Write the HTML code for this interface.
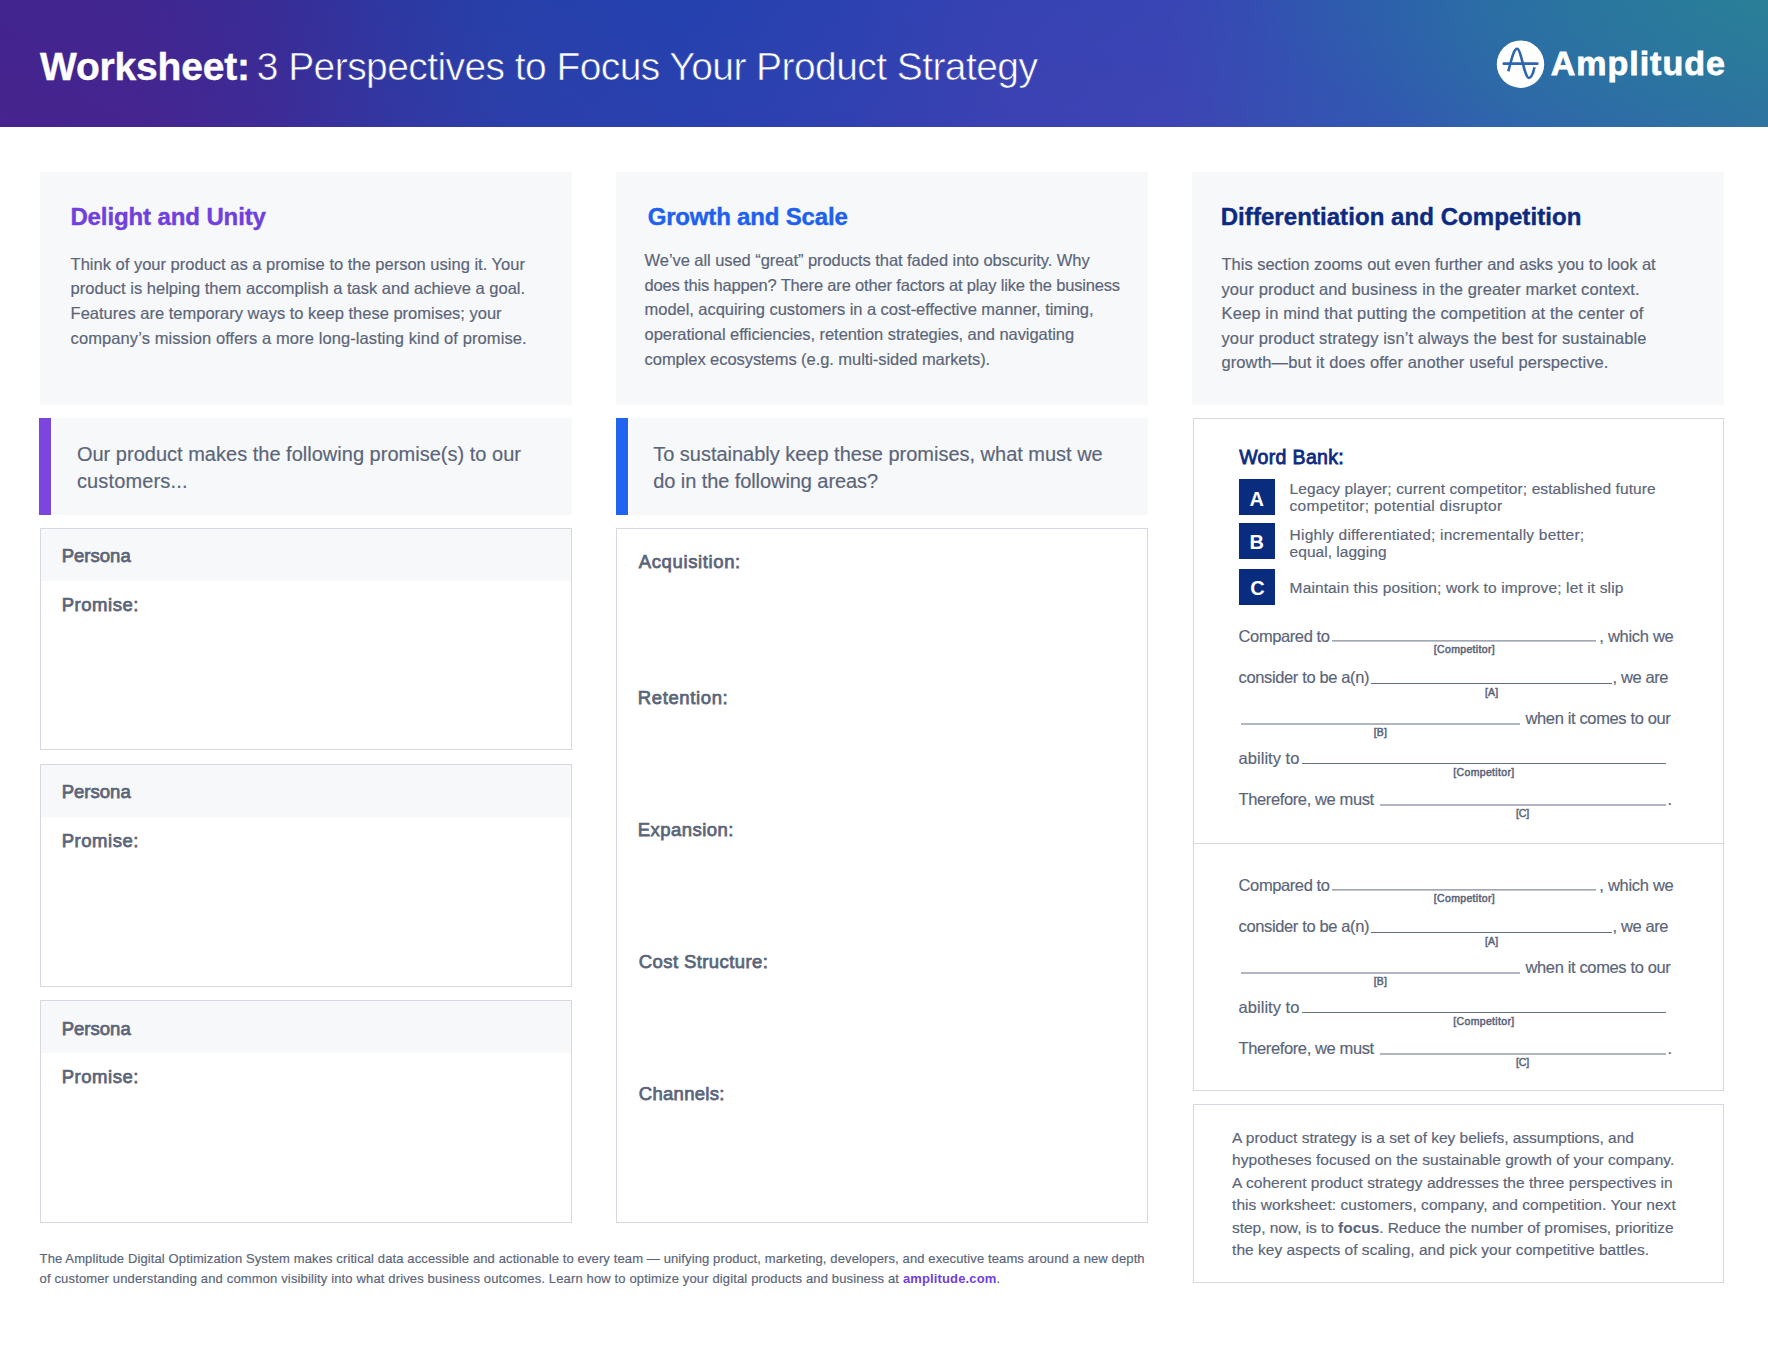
<!DOCTYPE html>
<html lang="en">
<head>
<meta charset="utf-8">
<title>Worksheet: 3 Perspectives to Focus Your Product Strategy</title>
<style>
*{box-sizing:border-box;margin:0;padding:0}
html,body{width:1768px;height:1364px;background:#fff;overflow:hidden}
body{position:relative;font-family:"Liberation Sans",sans-serif;color:#5b6579}
.a,.t{position:absolute}
.t{white-space:nowrap}
.r{-webkit-text-stroke:0.18px #5b6579}
.hdr{left:0;top:0;width:1768px;height:127px;background:
 radial-gradient(ellipse 520px 170px at 100% 0%,rgba(42,140,140,0.55) 0%,rgba(42,140,140,0.25) 55%,rgba(42,140,140,0) 100%),
 linear-gradient(180deg,rgba(30,60,180,0.10) 0%,rgba(80,50,180,0.10) 100%),
 linear-gradient(90deg,#46228a 0%,#45238b 7.4%,#3c2a93 15.3%,#2f38a0 22.6%,#2840a8 28.3%,#2542ae 38.5%,#2e42b0 48%,#3a43b2 56.6%,#3c46b4 66.2%,#3355b2 73.5%,#2e5eb0 79.2%,#2c68ac 84.8%,#2a70a8 93.3%,#2a76a2 100%)}
.card{background:#f7f8fa}
.box{border:1px solid #d5d8e0;background:#fff}
.sq{width:36px;height:36px;background:#0a2c7e}
.ln{height:1px;background:#7a8294}
h1,h2,h3{font-size:inherit;font-weight:400}
b{font-weight:700}
.r b{-webkit-text-stroke:0}
</style>
</head>
<body>
<header>
<div class="a hdr"></div>
<svg class="a" style="left:1496px;top:40px" width="49" height="49" viewBox="0 0 49 49">
<circle cx="24.5" cy="24.2" r="23.7" fill="#fff"/>
<path d="M7.8 23.7H41.3" stroke="#2b66ae" stroke-width="2.7" stroke-linecap="round" fill="none"/>
<path d="M12.3 31.3C15 22 17.5 8.8 21.1 8.8C25.2 8.8 28.3 38 33 38C35.8 38 37.5 32 38.5 27.3" stroke="#2b66ae" stroke-width="2.6" stroke-linecap="butt" fill="none"/>
</svg>
<div class="t" style="left:40.00px;top:45px;font-size:39px;line-height:43px;font-weight:700;color:#fff;letter-spacing:-0.176px;-webkit-text-stroke:0.4px #fff;">Worksheet:</div>
<div class="t" style="left:256.80px;top:45px;font-size:39px;line-height:43px;color:#fff;letter-spacing:-0.578px;-webkit-text-stroke-width:0.6px;"><span style="-webkit-text-stroke-color:#3b2b96">3</span> <span style="-webkit-text-stroke-color:#3038a2">Perspectives</span> <span style="-webkit-text-stroke-color:#283faa">to</span> <span style="-webkit-text-stroke-color:#2740ac">Focus</span> <span style="-webkit-text-stroke-color:#2941b0">Your</span> <span style="-webkit-text-stroke-color:#2d41af">Product</span> <span style="-webkit-text-stroke-color:#3740b1">Strategy</span></div>
<div class="t" style="left:1550.80px;top:44px;font-size:34px;line-height:38px;font-weight:700;color:#fff;letter-spacing:0.974px;-webkit-text-stroke:0.8px #fff;">Amplitude</div>
</header>
<main>
<div class="a card" style="left:40px;top:172px;width:532px;height:233px"></div>
<div class="a card" style="left:616px;top:172px;width:532px;height:233px"></div>
<div class="a card" style="left:1192px;top:172px;width:532px;height:233px"></div>
<div class="a card" style="left:52px;top:418px;width:520px;height:97px"></div>
<div class="a" style="left:39px;top:418px;width:12px;height:97px;background:#7b45de"></div>
<div class="a card" style="left:629px;top:418px;width:519px;height:97px"></div>
<div class="a" style="left:616px;top:418px;width:12px;height:97px;background:#2064f0"></div>
<div class="a box" style="left:40px;top:528px;width:532px;height:222px"></div>
<div class="a card" style="left:41px;top:529px;width:530px;height:52px"></div>
<div class="a box" style="left:40px;top:764px;width:532px;height:223px"></div>
<div class="a card" style="left:41px;top:765px;width:530px;height:52px"></div>
<div class="a box" style="left:40px;top:1000px;width:532px;height:223px"></div>
<div class="a card" style="left:41px;top:1001px;width:530px;height:52px"></div>
<div class="a box" style="left:616px;top:528px;width:532px;height:695px"></div>
<div class="a box" style="left:1193px;top:418px;width:531px;height:673px"></div>
<div class="a" style="left:1193px;top:843px;width:531px;height:1px;background:#d5d8e0"></div>
<div class="a sq" style="left:1239px;top:479px"></div>
<div class="a sq" style="left:1239px;top:523px"></div>
<div class="a sq" style="left:1239px;top:569px"></div>
<div class="a" style="left:1332.1px;top:640px;width:264.3px;height:1px;background:rgba(98,108,128,0.60)"></div>
<div class="a" style="left:1332.1px;top:641px;width:264.3px;height:1px;background:rgba(98,108,128,0.40)"></div>
<div class="a" style="left:1371.4px;top:683px;width:240.3px;height:1px;background:rgba(98,108,128,1.00)"></div>
<div class="a" style="left:1240.9px;top:723px;width:279.3px;height:1px;background:rgba(98,108,128,0.50)"></div>
<div class="a" style="left:1240.9px;top:724px;width:279.3px;height:1px;background:rgba(98,108,128,0.50)"></div>
<div class="a" style="left:1302.1px;top:763px;width:364.1px;height:1px;background:rgba(98,108,128,0.95)"></div>
<div class="a" style="left:1380.1px;top:804px;width:285.5px;height:1px;background:rgba(98,108,128,0.50)"></div>
<div class="a" style="left:1380.1px;top:805px;width:285.5px;height:1px;background:rgba(98,108,128,0.50)"></div>
<div class="a" style="left:1332.1px;top:889px;width:264.3px;height:1px;background:rgba(98,108,128,0.60)"></div>
<div class="a" style="left:1332.1px;top:890px;width:264.3px;height:1px;background:rgba(98,108,128,0.40)"></div>
<div class="a" style="left:1371.4px;top:932px;width:240.3px;height:1px;background:rgba(98,108,128,1.00)"></div>
<div class="a" style="left:1240.9px;top:972px;width:279.3px;height:1px;background:rgba(98,108,128,0.50)"></div>
<div class="a" style="left:1240.9px;top:973px;width:279.3px;height:1px;background:rgba(98,108,128,0.50)"></div>
<div class="a" style="left:1302.1px;top:1012px;width:364.1px;height:1px;background:rgba(98,108,128,0.95)"></div>
<div class="a" style="left:1380.1px;top:1053px;width:285.5px;height:1px;background:rgba(98,108,128,0.50)"></div>
<div class="a" style="left:1380.1px;top:1054px;width:285.5px;height:1px;background:rgba(98,108,128,0.50)"></div>
<div class="a box" style="left:1193px;top:1104px;width:531px;height:179px"></div>
<h2 class="t" style="left:70.40px;top:203px;font-size:24px;line-height:27px;font-weight:700;color:#7040de;letter-spacing:-0.112px;-webkit-text-stroke:0.4px #7040de;">Delight and Unity</h2>
<h2 class="t" style="left:647.70px;top:203px;font-size:24px;line-height:27px;font-weight:700;color:#2060ee;letter-spacing:-0.178px;-webkit-text-stroke:0.4px #2060ee;">Growth and Scale</h2>
<h2 class="t" style="left:1220.70px;top:203px;font-size:24px;line-height:27px;font-weight:700;color:#0c2a80;letter-spacing:0.067px;-webkit-text-stroke:0.4px #0c2a80;">Differentiation and Competition</h2>
<div class="t r" style="left:70.60px;top:255px;font-size:16.5px;line-height:18px;letter-spacing:0.005px;">Think of your product as a promise to the person using it. Your</div>
<div class="t r" style="left:70.60px;top:279px;font-size:16.5px;line-height:18px;letter-spacing:0.008px;">product is helping them accomplish a task and achieve a goal.</div>
<div class="t r" style="left:70.60px;top:304px;font-size:16.5px;line-height:18px;">Features are temporary ways to keep these promises; your</div>
<div class="t r" style="left:70.60px;top:329px;font-size:16.5px;line-height:18px;letter-spacing:0.090px;">company’s mission offers a more long-lasting kind of promise.</div>
<div class="t r" style="left:644.60px;top:251px;font-size:16.5px;line-height:18px;letter-spacing:-0.061px;">We’ve all used “great” products that faded into obscurity. Why</div>
<div class="t r" style="left:644.60px;top:276px;font-size:16.5px;line-height:18px;letter-spacing:-0.171px;">does this happen? There are other factors at play like the business</div>
<div class="t r" style="left:644.60px;top:300px;font-size:16.5px;line-height:18px;letter-spacing:-0.048px;">model, acquiring customers in a cost-effective manner, timing,</div>
<div class="t r" style="left:644.60px;top:325px;font-size:16.5px;line-height:18px;letter-spacing:-0.067px;">operational efficiencies, retention strategies, and navigating</div>
<div class="t r" style="left:644.60px;top:350px;font-size:16.5px;line-height:18px;letter-spacing:-0.063px;">complex ecosystems (e.g. multi-sided markets).</div>
<div class="t r" style="left:1221.50px;top:255px;font-size:16.5px;line-height:18px;letter-spacing:-0.009px;">This section zooms out even further and asks you to look at</div>
<div class="t r" style="left:1221.50px;top:280px;font-size:16.5px;line-height:18px;letter-spacing:0.097px;">your product and business in the greater market context.</div>
<div class="t r" style="left:1221.50px;top:304px;font-size:16.5px;line-height:18px;letter-spacing:0.144px;">Keep in mind that putting the competition at the center of</div>
<div class="t r" style="left:1221.50px;top:329px;font-size:16.5px;line-height:18px;letter-spacing:0.101px;">your product strategy isn’t always the best for sustainable</div>
<div class="t r" style="left:1221.50px;top:353px;font-size:16.5px;line-height:18px;letter-spacing:0.092px;">growth—but it does offer another useful perspective.</div>
<div class="t r" style="left:76.90px;top:443px;font-size:20px;line-height:22px;letter-spacing:0.011px;">Our product makes the following promise(s) to our</div>
<div class="t r" style="left:76.90px;top:470px;font-size:20px;line-height:22px;letter-spacing:0.149px;">customers...</div>
<div class="t r" style="left:653.20px;top:443px;font-size:20px;line-height:22px;letter-spacing:-0.015px;">To sustainably keep these promises, what must we</div>
<div class="t r" style="left:653.20px;top:470px;font-size:20px;line-height:22px;letter-spacing:-0.076px;">do in the following areas?</div>
<div class="t r" style="left:61.68px;top:545px;font-size:18.5px;line-height:21px;letter-spacing:0.022px;-webkit-text-stroke:0.75px #5b6579;">Persona</div>
<div class="t r" style="left:61.68px;top:594px;font-size:18.5px;line-height:21px;letter-spacing:0.541px;-webkit-text-stroke:0.75px #5b6579;">Promise:</div>
<div class="t r" style="left:61.68px;top:781px;font-size:18.5px;line-height:21px;letter-spacing:0.022px;-webkit-text-stroke:0.75px #5b6579;">Persona</div>
<div class="t r" style="left:61.68px;top:830px;font-size:18.5px;line-height:21px;letter-spacing:0.541px;-webkit-text-stroke:0.75px #5b6579;">Promise:</div>
<div class="t r" style="left:61.68px;top:1018px;font-size:18.5px;line-height:21px;letter-spacing:0.022px;-webkit-text-stroke:0.75px #5b6579;">Persona</div>
<div class="t r" style="left:61.68px;top:1066px;font-size:18.5px;line-height:21px;letter-spacing:0.541px;-webkit-text-stroke:0.75px #5b6579;">Promise:</div>
<div class="t r" style="left:638.77px;top:551px;font-size:18.5px;line-height:21px;letter-spacing:0.626px;-webkit-text-stroke:0.75px #5b6579;">Acquisition:</div>
<div class="t r" style="left:637.77px;top:687px;font-size:18.5px;line-height:21px;letter-spacing:0.627px;-webkit-text-stroke:0.75px #5b6579;">Retention:</div>
<div class="t r" style="left:637.77px;top:819px;font-size:18.5px;line-height:21px;letter-spacing:0.460px;-webkit-text-stroke:0.75px #5b6579;">Expansion:</div>
<div class="t r" style="left:638.77px;top:951px;font-size:18.5px;line-height:21px;letter-spacing:0.407px;-webkit-text-stroke:0.75px #5b6579;">Cost Structure:</div>
<div class="t r" style="left:638.77px;top:1083px;font-size:18.5px;line-height:21px;letter-spacing:0.285px;-webkit-text-stroke:0.75px #5b6579;">Channels:</div>
<h3 class="t" style="left:1239.20px;top:446px;font-size:19.5px;line-height:22px;color:#0c2a80;letter-spacing:0.343px;-webkit-text-stroke:0.8px #0c2a80;">Word Bank:</h3>
<div class="t" style="left:1249.40px;top:488px;font-size:20px;line-height:22px;font-weight:700;color:#fff;">A</div>
<div class="t" style="left:1249.60px;top:531px;font-size:20px;line-height:22px;font-weight:700;color:#fff;">B</div>
<div class="t" style="left:1250.30px;top:577px;font-size:20px;line-height:22px;font-weight:700;color:#fff;">C</div>
<div class="t r" style="left:1289.60px;top:480px;font-size:15.5px;line-height:17px;letter-spacing:0.097px;">Legacy player; current competitor; established future</div>
<div class="t r" style="left:1289.60px;top:497px;font-size:15.5px;line-height:17px;letter-spacing:0.279px;">competitor; potential disruptor</div>
<div class="t r" style="left:1289.60px;top:526px;font-size:15.5px;line-height:17px;letter-spacing:0.224px;">Highly differentiated; incrementally better;</div>
<div class="t r" style="left:1289.60px;top:543px;font-size:15.5px;line-height:17px;letter-spacing:0.030px;">equal, lagging</div>
<div class="t r" style="left:1289.60px;top:579px;font-size:15.5px;line-height:17px;letter-spacing:0.125px;">Maintain this position; work to improve; let it slip</div>
<div class="t r" style="left:1238.60px;top:627px;font-size:16.5px;line-height:18px;letter-spacing:-0.401px;">Compared to</div>
<div class="t r" style="left:1599.30px;top:627px;font-size:16.5px;line-height:18px;letter-spacing:-0.284px;">, which we</div>
<div class="t r" style="left:1433.75px;top:643px;font-size:10.5px;line-height:12px;letter-spacing:0.348px;-webkit-text-stroke:0.5px #5b6579;">[Competitor]</div>
<div class="t r" style="left:1238.60px;top:668px;font-size:16.5px;line-height:18px;letter-spacing:-0.371px;">consider to be a(n)</div>
<div class="t r" style="left:1612.60px;top:668px;font-size:16.5px;line-height:18px;letter-spacing:-0.404px;">, we are</div>
<div class="t r" style="left:1485.05px;top:686px;font-size:10.5px;line-height:12px;letter-spacing:0.137px;-webkit-text-stroke:0.5px #5b6579;">[A]</div>
<div class="t r" style="left:1525.50px;top:709px;font-size:16.5px;line-height:18px;letter-spacing:-0.366px;">when it comes to our</div>
<div class="t r" style="left:1373.75px;top:726px;font-size:10.5px;line-height:12px;letter-spacing:0.137px;-webkit-text-stroke:0.5px #5b6579;">[B]</div>
<div class="t r" style="left:1238.60px;top:749px;font-size:16.5px;line-height:18px;letter-spacing:0.027px;">ability to</div>
<div class="t r" style="left:1453.25px;top:766px;font-size:10.5px;line-height:12px;letter-spacing:0.348px;-webkit-text-stroke:0.5px #5b6579;">[Competitor]</div>
<div class="t r" style="left:1238.60px;top:790px;font-size:16.5px;line-height:18px;letter-spacing:-0.386px;">Therefore, we must</div>
<div class="t r" style="left:1667.50px;top:790px;font-size:16.5px;line-height:18px;">.</div>
<div class="t r" style="left:1516.05px;top:807px;font-size:10.5px;line-height:12px;letter-spacing:-0.102px;-webkit-text-stroke:0.5px #5b6579;">[C]</div>
<div class="t r" style="left:1238.60px;top:876px;font-size:16.5px;line-height:18px;letter-spacing:-0.401px;">Compared to</div>
<div class="t r" style="left:1599.30px;top:876px;font-size:16.5px;line-height:18px;letter-spacing:-0.284px;">, which we</div>
<div class="t r" style="left:1433.75px;top:892px;font-size:10.5px;line-height:12px;letter-spacing:0.348px;-webkit-text-stroke:0.5px #5b6579;">[Competitor]</div>
<div class="t r" style="left:1238.60px;top:917px;font-size:16.5px;line-height:18px;letter-spacing:-0.371px;">consider to be a(n)</div>
<div class="t r" style="left:1612.60px;top:917px;font-size:16.5px;line-height:18px;letter-spacing:-0.404px;">, we are</div>
<div class="t r" style="left:1485.05px;top:935px;font-size:10.5px;line-height:12px;letter-spacing:0.137px;-webkit-text-stroke:0.5px #5b6579;">[A]</div>
<div class="t r" style="left:1525.50px;top:958px;font-size:16.5px;line-height:18px;letter-spacing:-0.366px;">when it comes to our</div>
<div class="t r" style="left:1373.75px;top:975px;font-size:10.5px;line-height:12px;letter-spacing:0.137px;-webkit-text-stroke:0.5px #5b6579;">[B]</div>
<div class="t r" style="left:1238.60px;top:998px;font-size:16.5px;line-height:18px;letter-spacing:0.027px;">ability to</div>
<div class="t r" style="left:1453.25px;top:1015px;font-size:10.5px;line-height:12px;letter-spacing:0.348px;-webkit-text-stroke:0.5px #5b6579;">[Competitor]</div>
<div class="t r" style="left:1238.60px;top:1039px;font-size:16.5px;line-height:18px;letter-spacing:-0.386px;">Therefore, we must</div>
<div class="t r" style="left:1667.50px;top:1039px;font-size:16.5px;line-height:18px;">.</div>
<div class="t r" style="left:1516.05px;top:1056px;font-size:10.5px;line-height:12px;letter-spacing:-0.102px;-webkit-text-stroke:0.5px #5b6579;">[C]</div>
<div class="t r" style="left:1232.10px;top:1129px;font-size:15.5px;line-height:17px;letter-spacing:-0.024px;">A product strategy is a set of key beliefs, assumptions, and</div>
<div class="t r" style="left:1232.10px;top:1151px;font-size:15.5px;line-height:17px;letter-spacing:0.021px;">hypotheses focused on the sustainable growth of your company.</div>
<div class="t r" style="left:1232.10px;top:1174px;font-size:15.5px;line-height:17px;letter-spacing:0.033px;">A coherent product strategy addresses the three perspectives in</div>
<div class="t r" style="left:1232.10px;top:1196px;font-size:15.5px;line-height:17px;letter-spacing:0.046px;">this worksheet: customers, company, and competition. Your next</div>
<div class="t r" style="left:1232.10px;top:1219px;font-size:15.5px;line-height:17px;letter-spacing:-0.049px;">step, now, is to <b>focus</b>. Reduce the number of promises, prioritize</div>
<div class="t r" style="left:1232.10px;top:1241px;font-size:15.5px;line-height:17px;letter-spacing:0.028px;">the key aspects of scaling, and pick your competitive battles.</div>

</main>
<footer>
<div class="t r" style="left:39.60px;top:1251px;font-size:13px;line-height:15px;letter-spacing:0.116px;">The Amplitude Digital Optimization System makes critical data accessible and actionable to every team — unifying product, marketing, developers, and executive teams around a new depth</div>
<div class="t r" style="left:39.60px;top:1271px;font-size:13px;line-height:15px;letter-spacing:0.144px;">of customer understanding and common visibility into what drives business outcomes. Learn how to optimize your digital products and business at <b style="color:#7040de">amplitude.com</b>.</div>
</footer>
</body>
</html>
